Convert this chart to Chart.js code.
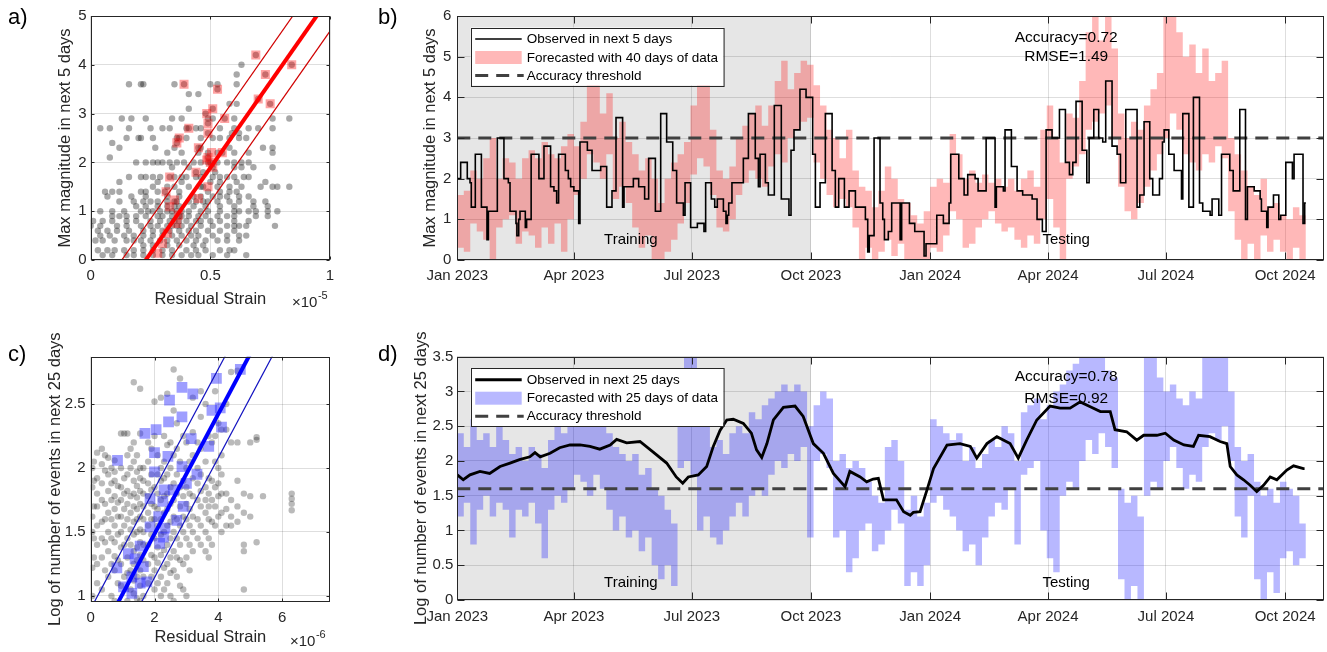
<!DOCTYPE html>
<html>
<head>
<meta charset="utf-8">
<script src="https://cdn.jsdelivr.net/npm/chart.js@4.4.1/dist/chart.umd.min.js"></script>
<style>
  html, body { margin: 0; padding: 0; background: #fff; }
  #wrap { position: relative; width: 1327px; height: 652px; overflow: hidden; }
  canvas { position: absolute; }
</style>
</head>
<body>
<div id="wrap">
  <canvas id="cA" width="345" height="320" style="left:0;top:0"></canvas>
  <canvas id="cB" width="982" height="320" style="left:345px;top:0"></canvas>
  <canvas id="cC" width="345" height="332" style="left:0;top:320px"></canvas>
  <canvas id="cD" width="982" height="332" style="left:345px;top:320px"></canvas>
</div>
<script>
// ---------- panel a : magnitude vs residual strain ----------
var aMagLevels = [4.2, 4.0, 3.8, 3.6, 3.5, 3.4, 3.3, 3.2, 3.1, 3.0, 2.9, 2.8, 2.7, 2.6, 2.5, 2.4, 2.3, 2.2, 2.1, 2.0,
                  1.9, 1.8, 1.7, 1.6, 1.5, 1.4, 1.3, 1.2, 1.1, 1.0, 0.9, 0.8, 0.7, 0.6, 0.5, 0.4, 0.3, 0.2, 0.1];
var aStrainRows = [
  [0.69],
  [0.63, 0.84],
  [0.61, 0.73],
  [0.16, 0.21, 0.22, 0.35, 0.39, 0.50, 0.53, 0.61],
  [0.53],
  [0.41, 0.45],
  [0.70],
  [0.58, 0.61, 0.75],
  [0.41, 0.51],
  [0.48],
  [0.13, 0.17, 0.23, 0.34, 0.38, 0.49, 0.51, 0.56, 0.60, 0.76, 0.83],
  [0.49],
  [0.04, 0.08, 0.16, 0.25, 0.30, 0.33, 0.40, 0.41, 0.44, 0.46, 0.54, 0.60, 0.66, 0.70, 0.76],
  [0.49, 0.59, 0.62],
  [0.15, 0.20, 0.21, 0.26, 0.36, 0.37, 0.40, 0.46, 0.51, 0.54, 0.58, 0.62, 0.65],
  [0.09, 0.36],
  [0.12, 0.27, 0.35, 0.45, 0.46, 0.58, 0.72, 0.76],
  [0.32, 0.38, 0.45, 0.49, 0.53, 0.55, 0.60, 0.66, 0.76],
  [0.08, 0.49],
  [0.19, 0.23, 0.26, 0.28, 0.30, 0.33, 0.36, 0.39, 0.43, 0.46, 0.49, 0.50, 0.53, 0.57, 0.60, 0.63, 0.66],
  [0.34, 0.41, 0.51, 0.60, 0.63, 0.68, 0.76],
  [0.44, 0.47, 0.52],
  [0.16, 0.21, 0.23, 0.26, 0.29, 0.33, 0.35, 0.38, 0.40, 0.44, 0.46, 0.51, 0.54, 0.57, 0.60, 0.64, 0.66],
  [0.12, 0.28, 0.38, 0.50, 0.54, 0.61, 0.73],
  [0.26, 0.32, 0.35, 0.41, 0.46, 0.47, 0.53, 0.58, 0.63, 0.71, 0.76, 0.78, 0.83],
  [0.06, 0.09, 0.12, 0.21, 0.23, 0.28, 0.31, 0.37, 0.49, 0.54, 0.58, 0.61],
  [0.07, 0.17, 0.23, 0.32, 0.37, 0.43, 0.46, 0.51, 0.54, 0.57, 0.62, 0.66],
  [0.12, 0.18, 0.22, 0.25, 0.28, 0.32, 0.35, 0.36, 0.41, 0.44, 0.47, 0.49, 0.53, 0.58, 0.62, 0.68, 0.73],
  [0.19, 0.23, 0.28, 0.32, 0.35, 0.37, 0.43, 0.48, 0.54, 0.60, 0.68, 0.74],
  [0.04, 0.09, 0.14, 0.21, 0.24, 0.26, 0.29, 0.32, 0.34, 0.36, 0.38, 0.41, 0.46, 0.49, 0.54, 0.60, 0.62, 0.66, 0.69, 0.74, 0.78],
  [0.09, 0.12, 0.15, 0.19, 0.23, 0.28, 0.30, 0.34, 0.37, 0.38, 0.41, 0.45, 0.48, 0.53, 0.57, 0.60, 0.69, 0.74],
  [0.01, 0.05, 0.09, 0.15, 0.19, 0.25, 0.29, 0.33, 0.35, 0.37, 0.40, 0.44, 0.46, 0.50, 0.54, 0.60, 0.66],
  [0.00, 0.04, 0.11, 0.15, 0.21, 0.25, 0.28, 0.32, 0.34, 0.36, 0.38, 0.42, 0.46, 0.51, 0.57, 0.60, 0.62, 0.65, 0.77],
  [0.03, 0.07, 0.11, 0.16, 0.22, 0.26, 0.30, 0.33, 0.37, 0.41, 0.44, 0.49, 0.54, 0.60],
  [0.04, 0.08, 0.14, 0.18, 0.22, 0.26, 0.30, 0.34, 0.38, 0.42, 0.45, 0.51, 0.57, 0.62, 0.65],
  [0.02, 0.05, 0.10, 0.15, 0.18, 0.21, 0.25, 0.29, 0.32, 0.36, 0.40, 0.44, 0.48, 0.53, 0.57, 0.62],
  [0.22, 0.26, 0.32, 0.37, 0.43, 0.47],
  [0.03, 0.07, 0.10, 0.14, 0.18, 0.22, 0.26, 0.30, 0.34, 0.40, 0.44, 0.48, 0.54, 0.58, 0.60],
  [0.05, 0.09, 0.15, 0.18, 0.22, 0.26, 0.30, 0.34, 0.38, 0.42, 0.45, 0.51, 0.57, 0.65]
];
var aHighlight = [[0.39,3.6],[0.53,3.5],[0.69,4.2],[0.73,3.8],[0.84,4.0],[0.70,3.3],[0.75,3.2],[0.51,3.1],
  [0.485,3.0],[0.49,2.8],[0.56,2.9],[0.41,2.7],[0.49,2.6],[0.37,2.5],[0.36,2.4],[0.45,2.3],[0.55,2.2],
  [0.505,2.2],[0.49,2.1],[0.485,2.05],[0.50,2.0],[0.51,1.9],[0.44,1.8],[0.33,1.7],[0.49,1.5],[0.315,1.4],
  [0.45,1.26],[0.35,1.23],[0.33,1.09],[0.366,0.92],[0.36,0.75],[0.32,0.55],[0.30,0.34],[0.28,0.14]];
var aFit = { slope: 7.0, mid: -1.61, upper: -0.91, lower: -2.31 };

// ---------- panel c : log event count vs residual strain ----------
var cStrainCols = [0.05, 0.1, 0.2, 0.35, 0.45, 0.55, 0.65, 0.75, 0.85, 0.95, 1.05, 1.15, 1.25, 1.35, 1.45, 1.55, 1.65,
                   1.8, 1.9, 2.0, 2.1, 2.2, 2.3, 2.4, 2.5, 2.6, 2.7, 2.8, 2.9, 3.0, 3.1, 3.2, 3.35, 3.45, 3.6,
                   3.7, 3.8, 3.9, 4.0, 4.1, 4.25, 4.4, 4.6, 4.8, 5.0, 5.2, 5.4, 6.3];
var cLogCols = [
  [1.0, 1.22, 1.5, 1.62, 1.85, 2.0],
  [1.3, 1.45, 1.7, 1.9, 2.05],
  [1.1, 1.25, 1.4, 1.55, 1.7, 1.8, 1.92, 2.12],
  [1.05, 1.3, 1.45, 1.58, 1.75, 1.88, 2.03, 2.15],
  [1.2, 1.42, 1.6, 1.72, 1.98, 2.1],
  [1.15, 1.35, 1.5, 1.65, 1.82, 1.95, 2.08],
  [1.0, 1.25, 1.45, 1.6, 1.75, 1.88, 2.0],
  [0.96, 1.2, 1.31, 1.42, 1.55, 1.68, 1.78, 1.9, 1.97, 2.06],
  [1.1, 1.28, 1.48, 1.62, 1.73, 1.86],
  [1.08, 1.25, 1.38, 1.5, 1.62, 1.75, 1.85, 2.0, 2.27],
  [1.15, 1.4, 1.55, 1.68, 1.8, 1.92, 2.27],
  [0.96, 1.18, 1.3, 1.45, 1.6, 1.72, 1.82, 1.95, 2.1, 2.27],
  [1.05, 1.2, 1.4, 1.52, 1.65, 1.78, 2.0, 2.15],
  [1.02, 1.12, 1.25, 1.35, 1.48, 1.58, 1.7, 1.8, 1.9, 2.05, 2.2, 2.67],
  [0.98, 1.15, 1.28, 1.38, 1.5, 1.6, 1.68, 1.77, 1.86, 1.97, 2.1],
  [0.96, 1.08, 1.2, 1.32, 1.42, 1.52, 1.62, 1.72, 1.82, 1.92, 2.0, 2.27, 2.62],
  [1.0, 1.15, 1.28, 1.4, 1.5, 1.6, 1.7, 1.8, 1.9, 2.0],
  [1.1, 1.25, 1.4, 1.55, 1.65, 1.78, 1.88, 2.05, 2.2],
  [1.15, 1.32, 1.48, 1.6, 1.72, 1.83, 1.95, 2.15],
  [1.05, 1.2, 1.3, 1.45, 1.6, 1.7, 1.85, 2.25, 2.52],
  [1.1, 1.26, 1.38, 1.55, 1.68, 1.8, 1.95, 2.1],
  [1.0, 1.15, 1.32, 1.48, 1.6, 1.75, 1.9, 2.0, 2.55],
  [1.05, 1.22, 1.36, 1.5, 1.65, 1.78, 1.92, 2.05, 2.25],
  [1.1, 1.25, 1.4, 1.55, 1.68, 1.8, 1.95, 2.18, 2.58],
  [1.0, 1.18, 1.3, 1.45, 1.58, 1.72, 1.85, 2.0, 2.2],
  [0.96, 1.2, 1.35, 1.5, 1.62, 1.75, 1.88, 2.1, 2.45, 2.77],
  [1.15, 1.3, 1.45, 1.6, 1.8, 1.95, 2.15, 2.35],
  [1.08, 1.28, 1.4, 1.55, 1.7, 1.85, 2.05, 2.7],
  [1.05, 1.25, 1.5, 1.62, 1.78, 1.9, 2.25],
  [1.0, 1.3, 1.45, 1.6, 1.72, 1.85, 2.0, 2.2],
  [1.2, 1.4, 1.55, 1.68, 1.8, 2.05],
  [1.35, 1.5, 1.62, 1.78, 1.92, 2.1, 2.28, 2.55],
  [1.45, 1.6, 1.75, 1.88, 2.0, 2.2],
  [1.4, 1.55, 1.7, 1.82, 1.95, 2.15, 2.4, 2.6],
  [1.35, 1.5, 1.65, 1.75, 1.85, 2.05, 2.5],
  [1.3, 1.45, 1.6, 1.7, 1.8, 1.92, 2.25],
  [1.4, 1.58, 1.75, 1.9, 2.2],
  [1.55, 1.7, 1.85, 2.05, 2.25, 2.6],
  [1.62, 1.78, 1.88, 2.0, 2.35],
  [1.5, 1.65, 1.8, 1.95, 2.1, 2.3],
  [1.55, 1.68, 1.8, 2.3, 2.5],
  [1.55, 1.62, 1.75, 2.2, 2.75],
  [1.58, 1.7, 1.9, 2.2, 2.76],
  [1.05, 1.35, 1.4, 1.65, 1.8],
  [1.62, 1.78, 2.2],
  [1.42, 2.22, 2.24],
  [1.78],
  [1.67, 1.72, 1.76, 1.8]
];
var cHighlight = [[0.84,2.06],[1.7,2.27],[2.05,2.30],[2.0,2.12],[2.0,1.97],[2.47,2.53],[2.44,2.36],[2.86,2.63],
  [3.2,2.58],[2.86,2.4],[3.15,2.23],[2.42,2.09],[2.86,2.01],[3.0,1.88],[3.33,1.95],[3.94,2.70],[4.69,2.77],
  [4.06,2.47],[3.8,2.45],[4.1,2.32],[3.7,2.17],[2.3,1.83],[2.6,1.83],[2.9,1.7],[2.26,1.74],[1.86,1.76],
  [2.7,1.59],[2.13,1.62],[1.86,1.54],[2.33,1.53],[2.16,1.41],[2.28,1.46],[1.55,1.39],[1.18,1.33],[1.39,1.29],
  [0.82,1.22],[1.65,1.23],[1.29,1.15],[1.03,1.07],[1.55,1.1],[1.76,1.11],[1.29,1.02]];
var cFit = { slope: 0.469, mid: 0.547, upper: 0.899, lower: 0.205 };

// ---------- time axis (days since 1 Jan 2023) ----------
var monthDays = [0, 90, 181, 273, 365, 456, 547, 639];
var monthLabels = ['Jan 2023', 'Apr 2023', 'Jul 2023', 'Oct 2023', 'Jan 2024', 'Apr 2024', 'Jul 2024', 'Oct 2024'];
var trainEnd = 273;
var lastDay = 669;

// ---------- panel b : observed max magnitude (steps) ----------
var obsDaysB = [0,2.6,7.7,9.8,10.8,13.9,18.6,22.9,24,30.9,36,39.4,40.7,45.3,46,47.4,48.4,52.5,53.5,57,
  63,66.9,72,74.6,76.7,78.2,83.4,85.7,87.5,90,93.7,94.7,100.4,104,110.7,115.3,119.4,122.5,127.6,128.7,
  135.9,140,144.6,147.7,152.9,157,161.6,166.3,169.3,174.5,175.8,180.1,185.3,190.4,191.7,196.1,198.7,200.7,205.4,207.4,
  208.5,209.5,212,220.8,224.7,230,232.4,233.7,237.8,240.1,244.7,250.1,256,257.6,259.9,264.5,269.2,274.3,276.4,280,
  284.1,289.3,291.8,294.4,298.8,302.4,307.3,315,316.8,318,321.7,326.3,328.4,329.7,332.7,335.3,341.8,343,349,353.1,
  360.3,361.8,370.1,375.2,379.6,380.9,387.1,391.2,394,399.7,402,408.2,415.1,416.1,421.5,422.8,427.7,432.1,436.4,443.7,
  447.5,451.6,454.5,459.1,464.8,469.4,472.5,475.1,477.6,482.3,485.9,487.7,491.3,495.1,498.2,500.5,505.4,509.3,511.9,516,
  524.7,526.8,530.1,534.5,536.8,542,544.3,545.6,549.2,553.3,559,560,564.7,568.2,572.9,575.4,581.1,582.6,587.8,589.9,
  596.3,598.9,604,608.4,609.9,615.1,619.7,620.7,624.8,625.8,630,634.1,635.6,639.5,644.6,645.9,652.8,654.1,655];
var obsMagB = [2.0,2.4,2.0,1.9,1.3,2.6,1.3,0.5,1.2,3.0,2.0,1.9,1.2,0.9,0.6,1.0,1.2,0.8,1.0,2.6,
  2.0,2.8,1.8,1.7,1.4,2.6,2.2,2.0,1.8,1.7,0.9,2.9,2.7,2.2,2.3,1.3,1.7,3.5,1.3,1.8,
  2.0,1.8,1.5,2.5,1.2,3.6,2.9,2.2,1.4,1.1,1.9,0.8,0.9,0.7,1.9,1.5,1.3,1.5,1.2,0.9,
  1.1,1.4,1.9,2.5,3.6,2.5,1.8,2.6,1.9,1.6,3.8,1.5,1.1,2.7,3.2,4.2,4.0,2.6,1.3,1.9,
  3.6,2.2,1.3,2.0,1.3,1.7,1.3,1.0,0.2,0.6,3.0,1.4,1.0,0.5,0.7,1.4,0.5,1.4,0.9,0.7,
  0.1,0.4,1.1,0.9,1.4,2.6,2.0,1.6,2.1,2.0,1.7,3.0,1.3,1.8,1.7,3.2,2.3,1.7,1.6,1.5,
  1.0,0.7,3.2,3.0,3.7,2.4,2.1,2.4,3.9,2.7,1.9,3.0,3.7,3.0,2.9,4.4,2.8,2.6,1.9,3.7,
  1.3,1.6,3.4,2.0,1.6,2.0,2.9,3.2,2.6,2.2,1.5,3.6,1.3,4.0,1.4,1.2,1.1,1.5,1.1,2.6,
  2.2,1.7,3.7,1.0,1.8,1.7,1.5,1.2,0.8,1.3,1.6,1.0,1.1,2.4,2.0,2.6,0.9,1.4,1.4];
// forecast band, one pair every 5 days
var bLo = [0.3,0.2,0.9,0.7,0.5,0.0,0.8,1.0,1.1,0.4, 0.7,0.6,0.3,0.8,0.4,0.9,0.2,1.0,1.6,2.0,
  2.6,2.4,2.0,2.6,1.5,1.8,1.4,0.8,0.3,0.6, 0.0,0.0,0.2,0.5,0.9,1.4,2.1,2.5,2.3,1.6,
  0.8,0.7,1.0,1.6,1.9,2.2,2.0,1.8,2.3,2.6, 2.4,3.0,3.2,3.4,3.5,2.4,2.0,1.6,1.3,1.5,
  1.3,0.8,0.0,0.3,0.0,0.2,0.5,0.1,0.4,0.0, 0.0,0.0,0.0,0.3,0.2,0.6,1.2,1.0,0.3,0.4,
  0.8,1.0,1.2,0.9,0.7,0.8,0.5,0.3,0.6,0.4, 1.0,1.5,0.8,0.0,2.0,2.3,2.6,3.2,3.4,3.6,
  3.8,3.0,1.8,1.2,1.0,1.4,1.8,2.2,2.6,3.0, 3.6,3.2,2.6,2.4,2.2,2.6,2.4,2.8,2.5,1.2,
  0.5,0.0,0.4,0.0,0.6,0.2,0.5,0.2,0.0,0.3, 0.0,0.0];
var bHi = [1.6,1.7,2.2,2.0,2.5,3.0,2.0,2.5,2.4,2.0, 2.5,2.7,2.5,2.9,2.6,2.5,2.8,3.1,2.8,3.4,
  4.3,4.3,3.6,4.1,3.0,3.4,2.9,2.6,2.2,2.5, 2.0,1.4,2.0,2.4,2.6,2.9,3.8,4.3,4.3,3.2,
  2.2,2.0,2.3,3.0,3.3,3.6,3.8,3.3,3.8,4.4, 4.9,4.2,4.6,4.9,4.8,4.3,3.8,3.2,3.0,2.5,
  3.2,2.2,1.8,1.7,1.3,1.7,2.3,2.0,1.5,1.4, 1.1,0.9,1.2,1.8,2.0,1.9,3.1,2.6,2.0,2.2,
  1.9,2.1,1.9,2.0,1.8,2.0,1.7,2.0,2.2,1.8, 3.2,3.8,3.0,2.4,3.6,3.5,4.4,5.6,6.0,5.4,
  6.0,5.2,3.6,3.0,3.4,3.2,3.8,4.2,4.6,6.0, 6.0,5.6,5.0,5.3,4.6,5.2,4.4,4.6,4.9,3.0,
  2.6,2.2,1.8,1.6,2.0,1.3,1.4,1.1,1.0,1.3, 1.1,0.9];
var bThreshold = 3.0;

// ---------- panel d : observed log count ----------
var obsDaysD = [0,4.6,9.8,17.5,25,33,40.7,48,56,60,64,71.6,79,87,94.7,102.4,110,118,123,130.7,
  141,151,161.6,169,174,178.3,186,192.5,197.6,202.8,208,213,220.8,227,231,235,239,244,251.7,260.7,
  267,274.8,282.6,290.3,299.3,303,311,316,321,325,329,339,344.5,349.6,352,357.2,362.5,367.6,378,388,
  396,401,408.8,416.5,426.7,433,439.5,447.3,457.6,465.3,473,480.8,488.6,496.4,504,507.7,516.7,524.5,529.8,540,
  546.5,553,560.9,568.2,572.2,581,588.8,594,596.6,601.7,606.9,612,617.1,622.3,627.5,632.6,640.3,645.5,653.1];
var obsLogD = [1.80,1.73,1.80,1.85,1.82,1.92,1.97,2.02,2.06,2.12,2.06,2.11,2.19,2.23,2.23,2.21,2.17,2.23,2.31,2.26,
  2.28,2.13,1.97,1.77,1.68,1.77,1.80,1.92,2.21,2.44,2.59,2.60,2.54,2.40,2.16,2.05,2.25,2.59,2.77,2.79,
  2.64,2.25,2.11,1.82,1.63,1.85,1.77,1.70,1.74,1.75,1.44,1.44,1.27,1.22,1.26,1.27,1.58,1.89,2.23,2.25,
  2.21,2.04,2.25,2.35,2.25,2.04,2.30,2.59,2.79,2.76,2.76,2.85,2.78,2.71,2.71,2.45,2.42,2.30,2.37,2.37,
  2.40,2.30,2.23,2.21,2.37,2.35,2.28,2.25,1.92,1.80,1.73,1.65,1.56,1.65,1.77,1.73,1.87,1.93,1.89];
var dLo = [1.2,1.4,0.8,1.3,1.5,1.2,1.4,1.3,0.9,1.3, 1.2,1.4,1.1,0.6,1.3,1.5,1.4,1.6,1.8,1.7,
  1.5,1.8,1.6,1.3,1.0,1.2,0.9,1.0,0.7,0.9, 0.5,0.3,0.5,0.2,1.9,2.0,1.8,1.0,1.2,0.9,
  0.8,1.0,1.2,1.4,1.2,1.5,1.6,1.5,1.8,2.0, 1.9,2.1,2.0,2.2,0.9,2.0,2.1,1.9,0.9,1.0,
  0.4,0.6,1.0,1.1,0.7,0.8,1.0,1.3,1.1,0.2, 0.4,0.2,0.5,1.4,1.5,1.3,1.2,1.0,0.7,0.8,
  0.5,0.9,1.2,1.4,1.3,1.6,0.8,1.8,1.9,2.0, 1.0,0.6,0.4,1.5,1.7,1.6,2.0,2.3,2.1,2.4,
  2.2,1.9,0.3,0.0,0.2,0.0,1.5,1.7,1.6,2.0, 2.2,1.9,1.6,1.8,1.7,2.2,2.4,2.3,2.5,2.0,
  1.2,0.9,1.5,0.3,0.0,0.4,0.1,0.6,0.7,0.5, 0.6,0.5];
var dHi = [2.4,2.2,2.6,2.3,2.4,2.2,2.5,2.3,2.1,2.2, 2.0,2.2,2.1,1.9,2.3,2.5,2.4,2.6,2.8,2.6,
  2.5,2.6,2.5,2.4,2.2,2.1,2.0,2.1,1.8,1.9, 1.6,1.5,1.3,1.1,3.0,3.5,3.5,2.5,2.6,2.2,
  2.3,2.1,2.4,2.5,2.4,2.7,2.6,2.8,2.9,3.0, 3.1,3.0,3.1,3.0,2.5,2.8,3.0,2.9,2.0,2.1,
  1.9,2.0,1.9,1.7,1.5,1.4,2.2,2.3,2.0,1.3, 1.5,1.2,1.4,2.6,2.5,2.4,2.3,2.4,2.0,2.2,
  1.9,2.1,2.3,2.2,2.5,2.4,2.0,2.7,2.8,2.9, 2.6,2.8,3.0,3.1,3.3,3.4,3.5,3.5,3.5,3.5,
  3.3,3.2,1.6,1.4,1.5,1.2,3.5,3.5,3.2,3.0, 3.1,2.9,2.8,3.0,2.9,3.5,3.5,3.5,3.5,3.0,
  2.2,2.0,2.1,1.7,1.5,1.6,1.4,1.7,1.6,1.5, 1.1,1.0];
var dThreshold = 1.6;

var bandDays = [];
for (var d = 0; d < bLo.length; d++) bandDays.push(d * 5);

// ---------- helpers ----------
var FONT = "'Liberation Sans', Arial, Helvetica, sans-serif";
var INK = '#262626';
var GRID = 'rgba(0,0,0,0.13)';
Chart.defaults.font.family = FONT;
Chart.defaults.color = INK;

function pts(xs, ys) {
  var out = [];
  for (var i = 0; i < xs.length; i++) out.push({ x: xs[i], y: ys[i] });
  return out;
}
function rowPoints(levels, rows, horizontalRows) {
  var out = [];
  for (var i = 0; i < levels.length; i++) {
    for (var j = 0; j < rows[i].length; j++) {
      out.push(horizontalRows ? { x: rows[i][j], y: levels[i] } : { x: levels[i], y: rows[i][j] });
    }
  }
  return out;
}
function pairPoints(list) {
  return list.map(function(p){ return { x: p[0], y: p[1] }; });
}
function fitLine(slope, icpt, x0, x1) {
  return [{ x: x0, y: slope * x0 + icpt }, { x: x1, y: slope * x1 + icpt }];
}
function withLast(xs, ys, endDay) {
  var p = pts(xs, ys);
  p.push({ x: endDay, y: ys[ys.length - 1] });
  return p;
}
function plainNum(v) {
  return String(Math.round(v * 100) / 100);
}

function drawLegend(ctx, area, o) {
  var x0 = area.left + 13.4, y0 = area.top + 11.5, w = 252.6, h = 58;
  ctx.fillStyle = '#fff';
  ctx.fillRect(x0, y0, w, h);
  ctx.strokeStyle = INK; ctx.lineWidth = 1; ctx.setLineDash([]);
  ctx.strokeRect(Math.round(x0) + 0.5, Math.round(y0) + 0.5, w, h);
  var rows = [y0 + 11.5, y0 + 30, y0 + 48];
  var sx0 = x0 + 4.5, sx1 = x0 + 51;
  ctx.strokeStyle = '#000'; ctx.lineWidth = o.lineWidth;
  ctx.beginPath(); ctx.moveTo(sx0, rows[0]); ctx.lineTo(sx1, rows[0]); ctx.stroke();
  ctx.fillStyle = o.band;
  ctx.fillRect(sx0, rows[1] - 6.5, sx1 - sx0, 13);
  ctx.strokeStyle = '#404040'; ctx.lineWidth = 3; ctx.setLineDash([13, 8]);
  ctx.beginPath(); ctx.moveTo(sx0, rows[2]); ctx.lineTo(sx1 + 2, rows[2]); ctx.stroke();
  ctx.setLineDash([]);
  ctx.fillStyle = '#000';
  ctx.font = '13.5px ' + FONT;
  ctx.textAlign = 'left'; ctx.textBaseline = 'middle';
  for (var i = 0; i < 3; i++) ctx.fillText(o.labels[i], x0 + 56, rows[i] + 0.5);
}

var frame = {
  id: 'frame',
  beforeDraw: function(chart, args, o) {
    if (o.shadeTo == null) return;
    var a = chart.chartArea, ctx = chart.ctx;
    var xr = chart.scales.x.getPixelForValue(o.shadeTo);
    ctx.save();
    ctx.fillStyle = '#e6e6e6';
    ctx.fillRect(a.left, a.top, xr - a.left, a.bottom - a.top);
    ctx.restore();
  },
  afterDraw: function(chart, args, o) {
    var ctx = chart.ctx, a = chart.chartArea, x = chart.scales.x, y = chart.scales.y;
    ctx.save();
    if (o.legend) drawLegend(ctx, a, o.legend);
    ctx.strokeStyle = INK; ctx.lineWidth = 1; ctx.setLineDash([]);
    var L = Math.round(a.left) + 0.5, R = Math.round(a.right) - 0.5;
    var T = Math.round(a.top) + 0.5, B = Math.round(a.bottom) - 0.5;
    ctx.strokeRect(L, T, R - L, B - T);
    var tl = o.tick || 4;
    ctx.beginPath();
    x.ticks.forEach(function(t){
      var px = Math.round(x.getPixelForValue(t.value)) + 0.5;
      ctx.moveTo(px, B); ctx.lineTo(px, B - tl);
      ctx.moveTo(px, T); ctx.lineTo(px, T + tl);
    });
    y.ticks.forEach(function(t){
      var py = Math.round(y.getPixelForValue(t.value)) + 0.5;
      ctx.moveTo(L, py); ctx.lineTo(L + tl, py);
      ctx.moveTo(R, py); ctx.lineTo(R - tl, py);
    });
    ctx.stroke();
    ctx.fillStyle = '#000';
    ctx.textAlign = 'center'; ctx.textBaseline = 'middle';
    (o.notes || []).forEach(function(n){
      ctx.font = n.size + 'px ' + FONT;
      ctx.fillText(n.text, x.getPixelForValue(n.x), y.getPixelForValue(n.y));
    });
    if (o.panel) {
      ctx.fillStyle = '#000';
      ctx.font = '22px ' + FONT;
      ctx.textAlign = 'left';
      ctx.fillText(o.panel.text, o.panel.x, o.panel.y);
    }
    if (o.exp) {
      ctx.fillStyle = INK;
      ctx.font = '15px ' + FONT;
      ctx.textAlign = 'left';
      ctx.fillText('\u00d710', o.exp.x, o.exp.y);
      var w = ctx.measureText('\u00d710').width;
      ctx.font = '11px ' + FONT;
      ctx.fillText(o.exp.power, o.exp.x + w + 0.5, o.exp.y - 7);
    }
    ctx.restore();
  }
};

function fixedTicks(values) {
  return function(s) { s.ticks = values.map(function(v){ return { value: v }; }); };
}
function axis(extra) {
  var base = {
    type: 'linear',
    grid: { color: GRID, drawTicks: false },
    border: { display: false },
    ticks: { color: INK, font: { size: 15 }, padding: 7, autoSkip: false, maxRotation: 0, callback: plainNum }
  };
  for (var k in extra) base[k] = extra[k];
  return base;
}
function yTitle(text, pad) {
  return { display: true, text: text, color: INK, font: { size: 16.5 }, padding: { top: pad, bottom: 0 } };
}
function xTitle(text, pad) {
  return { display: true, text: text, color: INK, font: { size: 16.5 }, padding: { top: 0, bottom: pad } };
}
function yTicks(pad) {
  return { color: INK, font: { size: 15 }, padding: pad, autoSkip: false, callback: plainNum };
}

// ---------- scatter panels ----------
function scatterChart(id, cfg) {
  return new Chart(document.getElementById(id), {
    type: 'scatter',
    data: { datasets: [
      { data: fitLine(cfg.fit.slope, cfg.fit.mid, cfg.xMin, cfg.xMax), showLine: true, borderColor: cfg.lineMain, borderWidth: 4, pointRadius: 0 },
      { data: fitLine(cfg.fit.slope, cfg.fit.upper, cfg.xMin, cfg.xMax), showLine: true, borderColor: cfg.lineThin, borderWidth: 1.2, pointRadius: 0 },
      { data: fitLine(cfg.fit.slope, cfg.fit.lower, cfg.xMin, cfg.xMax), showLine: true, borderColor: cfg.lineThin, borderWidth: 1.2, pointRadius: 0 },
      { data: cfg.marks, pointStyle: 'rect', pointRadius: cfg.markRadius, backgroundColor: cfg.markFill, borderWidth: 0 },
      { data: cfg.cloud, pointRadius: 3.2, backgroundColor: cfg.dot, borderWidth: 0 }
    ] },
    options: {
      responsive: false, animation: false, events: [],
      layout: { padding: { left: 0, top: cfg.top, right: 15, bottom: 0 } },
      plugins: { legend: { display: false }, tooltip: { enabled: false }, frame: cfg.frame },
      scales: {
        x: axis({ min: cfg.xMin, max: cfg.xMax, afterFit: function(s){ s.height = cfg.xH; },
                  afterBuildTicks: fixedTicks(cfg.xTicks), title: xTitle('Residual Strain', cfg.xPad) }),
        y: axis({ min: cfg.yMin, max: cfg.yMax, afterFit: function(s){ s.width = 90.7; },
                  afterBuildTicks: fixedTicks(cfg.yTicks), ticks: yTicks(cfg.yTickPad), title: yTitle(cfg.yTitle, cfg.yPad) })
      }
    },
    plugins: [frame]
  });
}

scatterChart('cA', {
  fit: aFit, xMin: 0, xMax: 1, yMin: 0, yMax: 5, xTicks: [0, 0.5, 1], yTicks: [0, 1, 2, 3, 4, 5],
  top: 16, xH: 60, xPad: 10.4, yPad: 55.4, yTickPad: 4,
  yTitle: 'Max magnitude in next 5 days',
  lineMain: '#ff0000', lineThin: '#d00000',
  marks: pairPoints(aHighlight), markRadius: 6.4, markFill: 'rgba(255,0,0,0.36)',
  cloud: rowPoints(aMagLevels, aStrainRows, true), dot: 'rgba(0,0,0,0.34)',
  frame: { tick: 3, panel: { text: 'a)', x: 8, y: 18 }, exp: { x: 292, y: 303, power: '-5' } }
});

scatterChart('cC', {
  fit: cFit, xMin: 0, xMax: 7.5, yMin: 0.955, yMax: 2.87, xTicks: [0, 2, 4, 6], yTicks: [1, 1.5, 2, 2.5],
  top: 36.7, xH: 50.3, xPad: 4.4, yPad: 45.4, yTickPad: 5,
  yTitle: 'Log of number of events in next 25 days',
  lineMain: '#0000ff', lineThin: '#1010c0',
  marks: pairPoints(cHighlight), markRadius: 7.6, markFill: 'rgba(40,40,255,0.45)',
  cloud: rowPoints(cStrainCols, cLogCols, false), dot: 'rgba(0,0,0,0.27)',
  frame: { tick: 3, panel: { text: 'c)', x: 8, y: 35 }, exp: { x: 290, y: 322, power: '-6' } }
});

// ---------- time-series panels ----------
function seriesChart(id, cfg) {
  return new Chart(document.getElementById(id), {
    type: 'line',
    data: { datasets: [
      { data: withLast(cfg.obsX, cfg.obsY, cfg.obsEnd), stepped: cfg.stepped, borderColor: '#000', borderWidth: cfg.obsWidth, pointRadius: 0, fill: false, tension: 0 },
      { data: [{ x: 0, y: cfg.threshold }, { x: lastDay, y: cfg.threshold }], borderColor: '#404040', borderWidth: 3, borderDash: [13, 8], pointRadius: 0, fill: false },
      { data: pts(bandDays, cfg.hi), stepped: true, borderWidth: 0, pointRadius: 0, backgroundColor: cfg.band, fill: '+1' },
      { data: pts(bandDays, cfg.lo), stepped: true, borderWidth: 0, pointRadius: 0, fill: false }
    ] },
    options: {
      responsive: false, animation: false, events: [],
      layout: { padding: { left: 0, top: cfg.top, right: 3, bottom: 0 } },
      plugins: { legend: { display: false }, tooltip: { enabled: false }, frame: cfg.frame },
      scales: {
        x: axis({ min: 0, max: lastDay, afterFit: function(s){ s.height = cfg.xH; },
                  afterBuildTicks: fixedTicks(monthDays),
                  ticks: { color: INK, font: { size: 15 }, padding: cfg.xTickPad, autoSkip: false, maxRotation: 0,
                           callback: function(v, i){ return monthLabels[i]; } } }),
        y: axis({ min: 0, max: cfg.yMax, afterFit: function(s){ s.width = 112.3; },
                  afterBuildTicks: fixedTicks(cfg.yTicks), ticks: yTicks(cfg.yTickPad), title: yTitle(cfg.yTitle, cfg.yPad) })
      }
    },
    plugins: [frame]
  });
}

seriesChart('cB', {
  obsX: obsDaysB, obsY: obsMagB, obsEnd: 655, stepped: true, obsWidth: 1.6,
  lo: bLo, hi: bHi, band: 'rgba(255,0,0,0.28)', threshold: bThreshold,
  top: 16, xH: 60, xTickPad: 7, yMax: 6, yTicks: [0, 1, 2, 3, 4, 5, 6], yTickPad: 6, yPad: 75.1,
  yTitle: 'Max magnitude in next 5 days',
  frame: {
    shadeTo: trainEnd, tick: 7,
    panel: { text: 'b)', x: 33, y: 18 },
    legend: { labels: ['Observed in next 5 days', 'Forecasted with 40 days of data', 'Accuracy threshold'],
              band: 'rgba(255,0,0,0.28)', lineWidth: 1.6 },
    notes: [
      { text: 'Accuracy=0.72', x: 470, y: 5.46, size: 15.5 },
      { text: 'RMSE=1.49', x: 470, y: 4.99, size: 15.5 },
      { text: 'Training', x: 134, y: 0.49, size: 15 },
      { text: 'Testing', x: 470, y: 0.49, size: 15 }
    ]
  }
});

seriesChart('cD', {
  obsX: obsDaysD, obsY: obsLogD, obsEnd: 654, stepped: false, obsWidth: 2.8,
  lo: dLo, hi: dHi, band: 'rgba(0,0,255,0.28)', threshold: dThreshold,
  top: 36.7, xH: 52, xTickPad: 8, yMax: 3.5, yTicks: [0, 0.5, 1, 1.5, 2, 2.5, 3, 3.5], yTickPad: 4, yPad: 66.8,
  yTitle: 'Log of number of events in next 25 days',
  frame: {
    shadeTo: trainEnd, tick: 7,
    panel: { text: 'd)', x: 33, y: 35 },
    legend: { labels: ['Observed in next 25 days', 'Forecasted with 25 days of data', 'Accuracy threshold'],
              band: 'rgba(0,0,255,0.28)', lineWidth: 3 },
    notes: [
      { text: 'Accuracy=0.78', x: 470, y: 3.21, size: 15.5 },
      { text: 'RMSE=0.92', x: 470, y: 2.89, size: 15.5 },
      { text: 'Training', x: 134, y: 0.24, size: 15 },
      { text: 'Testing', x: 470, y: 0.24, size: 15 }
    ]
  }
});
</script>
</body>
</html>
